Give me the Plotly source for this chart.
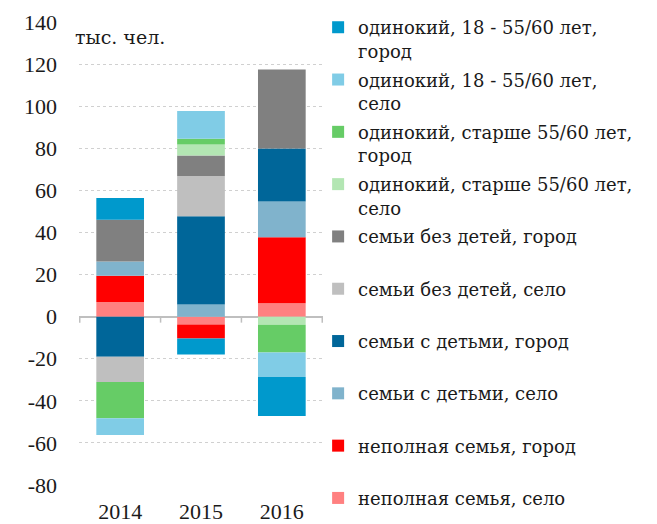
import plotly.graph_objects as go

years = ["2014", "2015", "2016"]

# values, thousand persons (legend order)
single_18_55_city = [10.4, -7.6, -18.5]
single_18_55_village = [-8.0, 13.2, -11.7]
single_55plus_city = [-17.3, 2.7, -13.1]
single_55plus_village = [0.0, 5.2, -3.9]
no_children_city = [19.8, 9.8, 37.5]
no_children_village = [-11.9, 19.1, 0.0]
children_city = [-19.1, 41.9, 25.2]
children_village = [6.8, 5.8, 17.0]
single_parent_city = [12.4, -6.7, 31.3]
single_parent_village = [7.0, -3.7, 6.4]

y_tick_values = [-80, -60, -40, -20, 0, 20, 40, 60, 80, 100, 120, 140]
y_tick_labels = ["-80", "-60", "-40", "-20", "0", "20", "40", "60", "80", "100", "120", "140"]

series = [
    ("одинокий, 18 - 55/60 лет,<br>город", single_18_55_city, "#0099CC"),
    ("одинокий, 18 - 55/60 лет,<br>село", single_18_55_village, "#80CCE6"),
    ("одинокий, старше 55/60 лет,<br>город", single_55plus_city, "#66CC66"),
    ("одинокий, старше 55/60 лет,<br>село", single_55plus_village, "#B3E6B3"),
    ("семьи без детей, город<br> ", no_children_city, "#808080"),
    ("семьи без детей, село<br> ", no_children_village, "#BFBFBF"),
    ("семьи с детьми, город<br> ", children_city, "#006699"),
    ("семьи с детьми, село<br> ", children_village, "#80B3CC"),
    ("неполная семья, город<br> ", single_parent_city, "#FF0000"),
    ("неполная семья, село", single_parent_village, "#FF8080"),
]

NUM_FONT = "'Liberation Serif', 'DejaVu Serif', serif"
TXT_FONT = "'DejaVu Serif', serif"

fig = go.Figure()
n = len(series)
for i, (name, vals, color) in enumerate(reversed(series)):
    fig.add_trace(go.Bar(x=years, y=vals, name=name, legendgroup=f"g{i}",
                         legendrank=n - i,
                         marker=dict(color=color, line=dict(width=0))))

# category boundary ticks on the zero line
for xb in [-0.5, 0.5, 1.5, 2.5]:
    fig.add_shape(type="line", xref="x", yref="y", x0=xb, x1=xb, ysizemode="pixel",
                  yanchor=0, y0=0, y1=-6, line=dict(color="#BFBFBF", width=1.5))

fig.add_annotation(text="тыс. чел.", xref="paper", yref="paper", x=-0.026, y=0.968,
                   xanchor="left", yanchor="middle", showarrow=False,
                   font=dict(family=TXT_FONT, size=19, color="#1a1a1a"))

# the page body adds an 8px offset, so the figure is 8px smaller on each axis
fig.update_layout(
    width=649, height=516,
    barmode="relative", bargap=0.41,
    plot_bgcolor="white", paper_bgcolor="white",
    margin=dict(l=71, r=334, t=14, b=39, autoexpand=False),
    font=dict(family=NUM_FONT, size=19, color="#1a1a1a"),
    showlegend=True,
    legend=dict(x=0.980, xanchor="left", y=1.028, yanchor="top",
                traceorder="grouped", tracegroupgap=2.5, valign="top",
                maxheight=524,
                font=dict(family=TXT_FONT, size=18, color="#1a1a1a"),
                bgcolor="rgba(0,0,0,0)", itemclick=False),
    xaxis=dict(showline=False, ticks="", tickfont=dict(family=NUM_FONT, size=22),
               ticklabelstandoff=11),
    yaxis=dict(range=[-80, 140], tickvals=y_tick_values, ticktext=y_tick_labels,
               showgrid=True, gridcolor="#D0D0D0", griddash="dot",
               gridwidth=1, zeroline=True, zerolinecolor="#BFBFBF", zerolinewidth=1.5,
               tickfont=dict(family=NUM_FONT, size=22), ticks="", ticklabelstandoff=21),
)

fig.write_html("out.html")
